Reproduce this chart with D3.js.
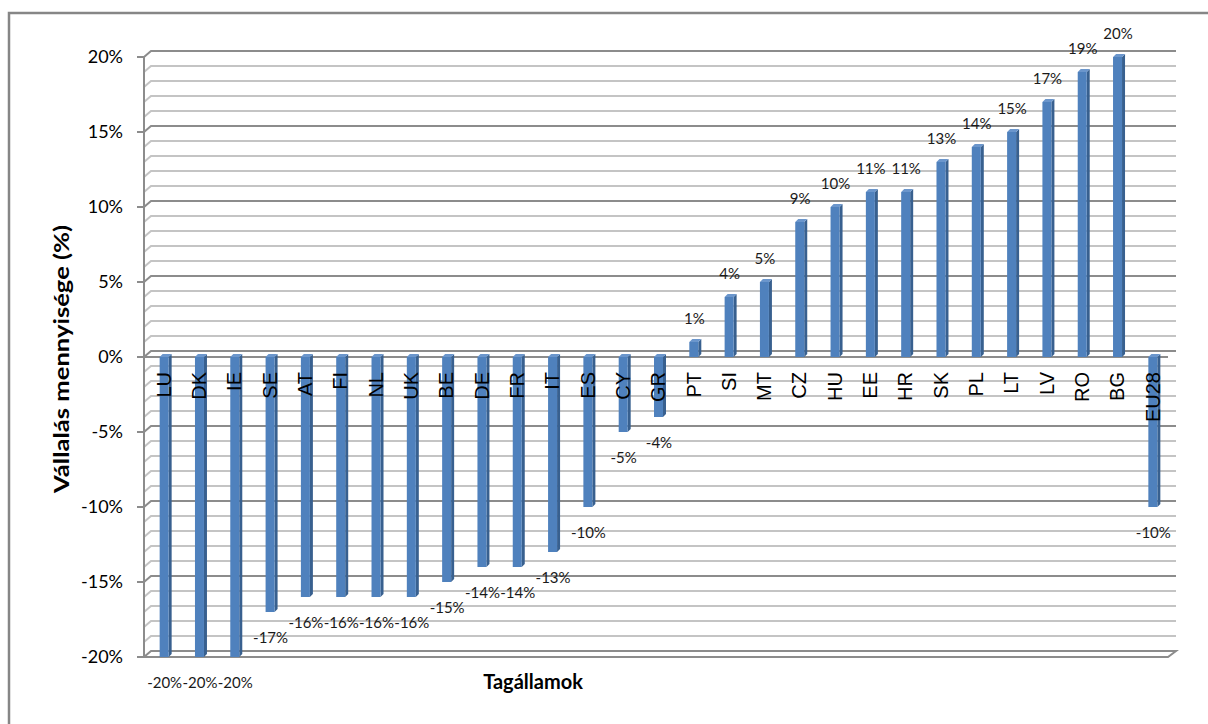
<!DOCTYPE html>
<html>
<head>
<meta charset="utf-8">
<script src="https://cdn.jsdelivr.net/npm/d3@7"></script>
<style>
  body { margin: 0; background: #fff; }
  svg { display: block; }
</style>
</head>
<body>
<div id="chart"></div>
<script>
const categories = ["LU", "DK", "IE", "SE", "AT", "FI", "NL", "UK", "BE", "DE", "FR", "IT", "ES", "CY", "GR",
  "PT", "SI", "MT", "CZ", "HU", "EE", "HR", "SK", "PL", "LT", "LV", "RO", "BG", "EU28"];
const values = [-20, -20, -20, -17, -16, -16, -16, -16, -15, -14, -14, -13, -10, -5, -4,
  1, 4, 5, 9, 10, 11, 11, 13, 14, 15, 17, 19, 20, -10];
const yTicks = [-20, -15, -10, -5, 0, 5, 10, 15, 20];
const gridValues = d3.range(-20, 21); // minor gridlines every 1%

const width = 1208;
const height = 724;

const svg = d3.select("#chart")
  .append("svg")
  .attr("width", width)
  .attr("height", height);

// outer chart border (runs off the right and bottom edges)
svg.append("rect")
  .attr("x", 9).attr("y", 13)
  .attr("width", 1220).attr("height", 740)
  .attr("fill", "none")
  .attr("stroke", "#868686")
  .attr("stroke-width", 2.5);

const x = d3.scaleBand().domain(categories).range([147, 1171]);
const y = d3.scaleLinear().domain([-20, 20]).range([657, 57]);

const axisX = 144;
const wallDx = 7, wallDy = -6; // depth of back wall
const wallRight = 1176;
const floorRight = 1168;

// back wall gridlines with the little 3D corner at the left
svg.append("g")
  .selectAll("path")
  .data(gridValues.filter((v) => v !== -20))
  .join("path")
  .attr("d", (v) => `M${axisX},${y(v)}L${axisX + wallDx},${y(v) + wallDy}L${wallRight},${y(v) + wallDy}`)
  .attr("fill", "none")
  .attr("stroke", (v) => (v % 5 === 0 ? "#8c8c8c" : "#c4c4c4"))
  .attr("stroke-width", 2);

// floor at the bottom
svg.append("path")
  .attr("d", `M${axisX},${y(-20)}L${floorRight},${y(-20)}L${wallRight},${y(-20) + wallDy}L${axisX + wallDx},${y(-20) + wallDy}Z`)
  .attr("fill", "#fff")
  .attr("stroke", "#8c8c8c")
  .attr("stroke-width", 2);

// value axis
const yAxis = svg.append("g");
yAxis.append("line")
  .attr("x1", axisX).attr("x2", axisX)
  .attr("y1", y(20)).attr("y2", y(-20))
  .attr("stroke", "#8c8c8c")
  .attr("stroke-width", 2);
yAxis.selectAll("line.tick")
  .data(yTicks)
  .join("line")
  .attr("class", "tick")
  .attr("x1", axisX - 7).attr("x2", axisX)
  .attr("y1", (d) => y(d)).attr("y2", (d) => y(d))
  .attr("stroke", "#8c8c8c")
  .attr("stroke-width", 2);
yAxis.selectAll("text")
  .data(yTicks)
  .join("text")
  .attr("x", 123)
  .attr("y", (d) => y(d))
  .attr("dy", "0.36em")
  .attr("text-anchor", "end")
  .attr("font-family", "Lato, 'Open Sans', sans-serif")
  .attr("font-size", 18)
  .attr("fill", "#000")
  .text((d) => `${d}%`);

// zero line
svg.append("line")
  .attr("x1", axisX - 7).attr("x2", floorRight)
  .attr("y1", y(0)).attr("y2", y(0))
  .attr("stroke", "#8c8c8c")
  .attr("stroke-width", 2);

// 3D columns
const barW = 9, depth = 3;
const data = categories.map((c, i) => ({ cat: c, value: values[i] }));
const bars = svg.append("g")
  .selectAll("g")
  .data(data)
  .join("g");

const cx = (d) => x(d.cat) + x.bandwidth() / 2;
const barTop = (d) => y(Math.max(0, d.value));
const barBottom = (d) => y(Math.min(0, d.value));

bars.append("path") // side face
  .attr("d", (d) => {
    const x0 = cx(d) - 5 + barW;
    return `M${x0},${barTop(d)}L${x0 + depth},${barTop(d) - depth}L${x0 + depth},${barBottom(d) - depth}L${x0},${barBottom(d)}Z`;
  })
  .attr("fill", "#38608f");
bars.append("path") // top face
  .attr("d", (d) => {
    const x0 = cx(d) - 5;
    return `M${x0},${barTop(d)}L${x0 + barW},${barTop(d)}L${x0 + barW + depth},${barTop(d) - depth}L${x0 + depth},${barTop(d) - depth}Z`;
  })
  .attr("fill", "#6b96cc");
bars.append("rect") // front face
  .attr("x", (d) => cx(d) - 5)
  .attr("y", barTop)
  .attr("width", barW)
  .attr("height", (d) => barBottom(d) - barTop(d))
  .attr("fill", "#4f81bd");

// category labels sit just under the zero line, rotated
svg.append("g")
  .selectAll("text")
  .data(data)
  .join("text")
  .attr("transform", (d) => `translate(${cx(d) - 1},372) rotate(-90)`)
  .attr("dy", "0.36em")
  .attr("text-anchor", "end")
  .attr("font-family", "'Liberation Sans', Arial, sans-serif")
  .attr("font-size", 20)
  .attr("fill", "#000")
  .text((d) => d.cat);

// data labels
svg.append("g")
  .selectAll("text")
  .data(data)
  .join("text")
  .attr("x", cx)
  .attr("y", (d) => (d.value >= 0 ? y(d.value) - 18.5 : y(d.value) + 31))
  .attr("text-anchor", "middle")
  .attr("font-family", "Lato, 'Open Sans', sans-serif")
  .attr("font-size", 15)
  .attr("fill", "#1a1a1a")
  .text((d) => `${d.value}%`);

// axis titles
svg.append("text")
  .attr("x", 533).attr("y", 689)
  .attr("text-anchor", "middle")
  .attr("font-family", "Lato, 'Open Sans', sans-serif")
  .attr("font-weight", "bold")
  .attr("font-size", 20)
  .text("Tagállamok");

// the source stretches this title along its length
svg.append("text")
  .attr("transform", "translate(62,359) rotate(-90) scale(1.28,1)")
  .attr("dy", "0.36em")
  .attr("text-anchor", "middle")
  .attr("font-family", "Lato, 'Open Sans', sans-serif")
  .attr("font-weight", "bold")
  .attr("font-size", 20)
  .text("Vállalás mennyisége (%)");
</script>
</body>
</html>
